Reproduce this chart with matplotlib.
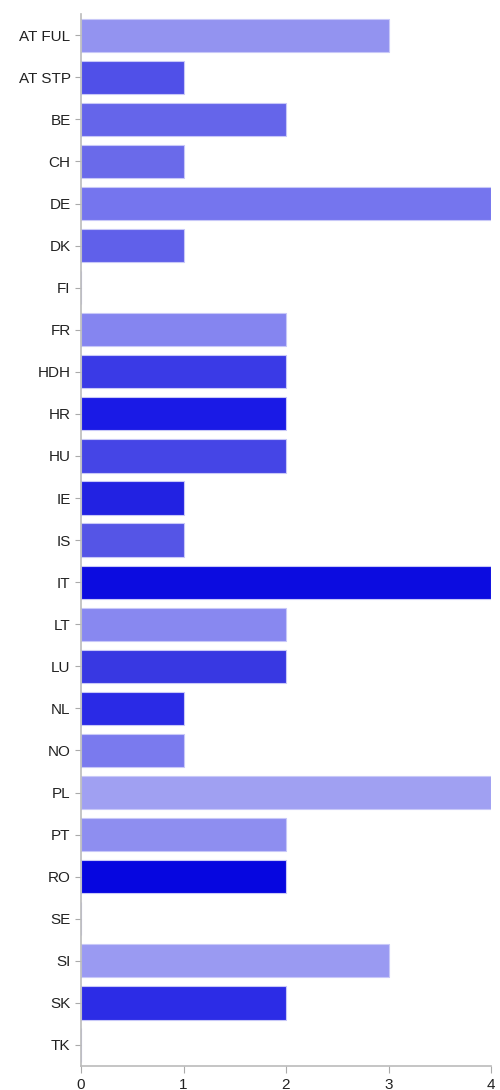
import matplotlib.pyplot as plt

countries = ['AT FUL', 'AT STP', 'BE', 'CH', 'DE', 'DK', 'FI', 'FR', 'HDH', 'HR',
             'HU', 'IE', 'IS', 'IT', 'LT', 'LU', 'NL', 'NO', 'PL', 'PT', 'RO',
             'SE', 'SI', 'SK', 'TK']
counts = [3, 1, 2, 1, 4, 1, 0, 2, 2, 2, 2, 1, 1, 4, 2, 2, 1, 1, 4, 2, 2, 0, 3, 2, 0]
bar_colors = ['#9393f0', '#5050e8', '#6565ea', '#6a6aea', '#7575ee', '#6060ea', '#ffffff',
              '#8585f0', '#3a3ae6', '#1a1ae6', '#4545e6', '#2222e2', '#5555e6', '#0c0ce0',
              '#8888f0', '#3838e2', '#2a2ae6', '#7a7aee', '#a0a0f2', '#8e8ef0', '#0606e0',
              '#ffffff', '#9a9af2', '#2c2ce6', '#ffffff']

plt.rcParams['font.family'] = ['Liberation Sans', 'DejaVu Sans']

fig = plt.figure(figsize=(5, 10.9), dpi=100)
ax = fig.add_axes([0.162, 0.022, 0.82, 0.965])

ypos = range(len(countries))
ax.barh(ypos, counts, height=0.79, color=bar_colors, edgecolor='#c8c8f8', linewidth=0.8)

ax.set_yticks(list(ypos))
ax.set_yticklabels(countries, fontsize=11, color='#222222')
ax.set_ylim(len(countries) - 0.5, -0.5)
ax.set_xlim(0, 4)
ax.set_xticks([0, 1, 2, 3, 4])
ax.tick_params(axis='x', labelsize=11, colors='#aaaaaa', labelcolor='#222222', length=5)
ax.tick_params(axis='y', colors='#aaaaaa', labelcolor='#222222', length=4)

for side in ['top', 'right']:
    ax.spines[side].set_visible(False)
for side in ['left', 'bottom']:
    ax.spines[side].set_color('#bbbbbb')
    ax.spines[side].set_linewidth(1.2)

fig.savefig('out.png', dpi=100)
